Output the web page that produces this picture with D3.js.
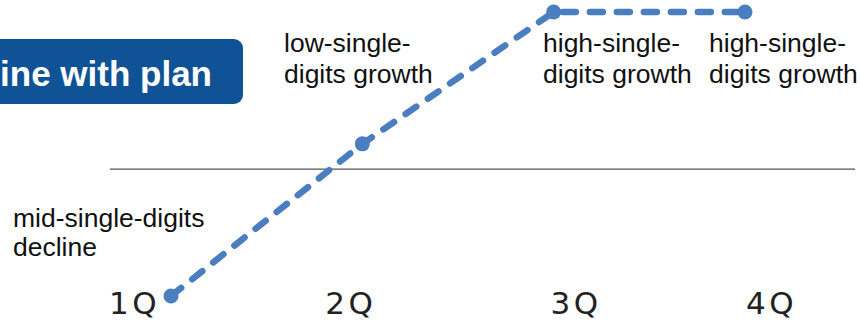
<!DOCTYPE html>
<html>
<head>
<meta charset="utf-8">
<script src="https://cdn.jsdelivr.net/npm/d3@7"></script>
<style>
  body { margin: 0; background: #fff; }
  svg { display: block; }
</style>
</head>
<body>
<div id="chart"></div>
<script>
// quarters and the outlook value for each (approx %)
var quarters = ["1Q", "2Q", "3Q", "4Q"];
var growth = [-5, 1, 6.2, 6.2];
var notes = [
    ["mid-single-digits", "decline"],
    ["low-single-", "digits growth"],
    ["high-single-", "digits growth"],
    ["high-single-", "digits growth"]
];
var badgeText = "ine with plan";

var width = 860, height = 321;

var svg = d3.select("#chart")
    .append("svg")
    .attr("width", width)
    .attr("height", height);

// scales
var x = d3.scalePoint()
    .domain(quarters)
    .range([171, 745]);

var y = d3.scaleLinear()
    .domain([-5, 6.2])
    .range([296, 12]);

// blue badge, cut off at the left edge
svg.append("rect")
    .attr("x", -20)
    .attr("y", 39)
    .attr("width", 263)
    .attr("height", 65)
    .attr("rx", 9)
    .attr("fill", "#0f5396");

svg.append("text")
    .attr("x", 212)
    .attr("y", 86)
    .attr("text-anchor", "end")
    .style("font-family", "Liberation Sans, Arial, sans-serif")
    .style("font-weight", "bold")
    .style("font-size", "35px")
    .attr("fill", "#fff")
    .text(badgeText);

// zero line
svg.append("line")
    .attr("x1", 110)
    .attr("x2", 855)
    .attr("y1", y(0))
    .attr("y2", y(0))
    .attr("stroke", "#555")
    .attr("stroke-width", 1.3);

// x axis (labels only)
var labelShift = [-37, -12, 22, 26];
var xAxis = svg.append("g")
    .attr("transform", "translate(0,289)")
    .call(d3.axisBottom(x).tickSize(0).tickPadding(0));
xAxis.select(".domain").remove();
xAxis.selectAll("text")
    .attr("dx", function (d, i) { return labelShift[i]; })
    .attr("dy", "0.8em")
    .style("font-family", "DejaVu Sans, sans-serif")
    .style("font-size", "31px")
    .style("letter-spacing", "3.5px")
    .attr("fill", "#222");

// annotations
var notePos = [
    { x: 13, y: 227 },
    { x: 284, y: 52 },
    { x: 543, y: 52 },
    { x: 709, y: 52 }
];
notes.forEach(function (lines, i) {
    var t = svg.append("text")
        .attr("x", notePos[i].x)
        .attr("y", notePos[i].y)
        .style("font-family", "Liberation Sans, Arial, sans-serif")
        .style("font-size", "26.5px")
        .attr("fill", "#111");
    lines.forEach(function (s, j) {
        t.append("tspan")
            .attr("x", notePos[i].x)
            .attr("dy", j == 0 ? 0 : (i == 0 ? 29 : 31))
            .text(s);
    });
});

// dashed line
var data = quarters.map(function (q, i) { return { q: q, v: growth[i] }; });

svg.append("path")
    .datum(data)
    .attr("fill", "none")
    .attr("stroke", "#4a7ec0")
    .attr("stroke-width", 6.5)
    .attr("stroke-linecap", "round")
    .attr("stroke-dasharray", "13,14")
    .attr("d", d3.line()
        .x(function (d) { return x(d.q); })
        .y(function (d) { return y(d.v); }));

svg.selectAll(".dot")
    .data(data)
    .enter()
    .append("circle")
    .attr("class", "dot")
    .attr("cx", function (d) { return x(d.q); })
    .attr("cy", function (d) { return y(d.v); })
    .attr("r", 7.5)
    .attr("fill", "#4a7ec0");
</script>
</body>
</html>
